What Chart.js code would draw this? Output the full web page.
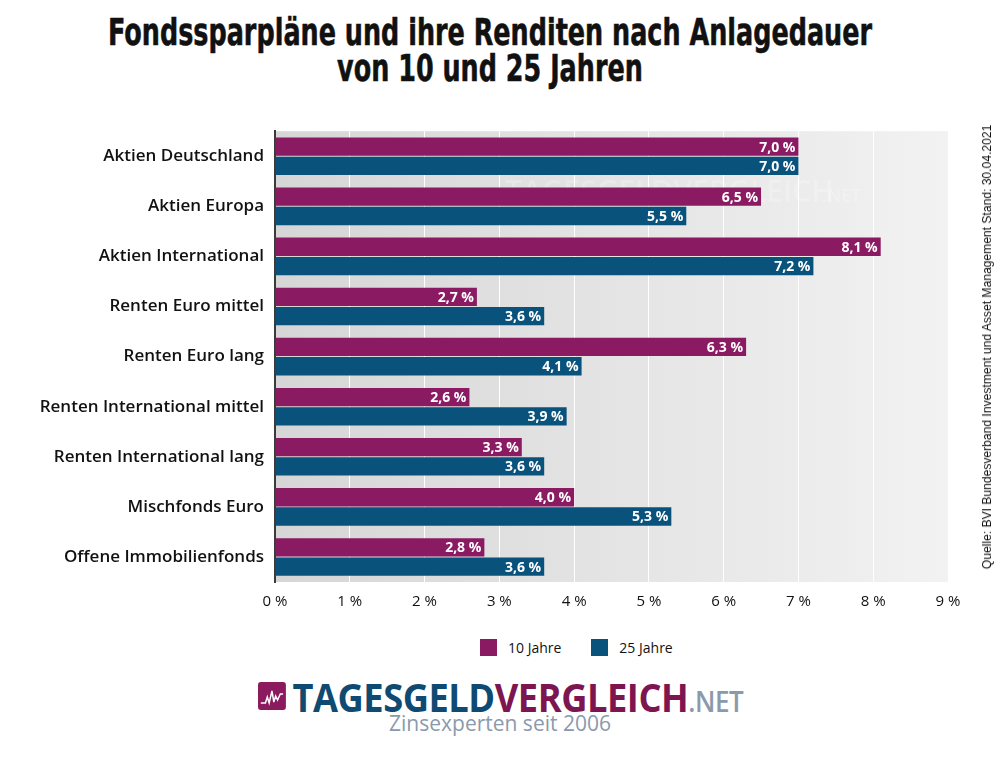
<!DOCTYPE html>
<html>
<head>
<meta charset="utf-8">
<script src="https://cdn.jsdelivr.net/npm/chart.js@4/dist/chart.umd.min.js"></script>
<style>
  body { margin: 0; width: 1000px; height: 764px; background: #fff; position: relative; overflow: hidden; font-family: "Open Sans", sans-serif; }
  #title { position: absolute; top: 14px; left: -300px; width: 1580px; white-space: nowrap; text-align: center; font-family: "DejaVu Sans", sans-serif; font-weight: bold; font-size: 38px; line-height: 36px; color: #111; transform: scaleX(0.67); transform-origin: 790px 0; -webkit-text-stroke: 0.6px #111; }
  #wrap { position: absolute; left: 0; top: 110px; width: 1000px; height: 520px; }
  #source { position: absolute; left: 987px; top: 347px; transform: translate(-50%, -50%) rotate(-90deg); white-space: nowrap; font-family: "Liberation Sans", Arial, sans-serif; font-size: 12.1px; color: #111; }
  #legend { position: absolute; top: 638px; left: 480px; white-space: nowrap; font-family: "Open Sans", sans-serif; font-size: 14px; color: #111; }
  #legend span.box { display: inline-block; width: 17px; height: 17px; vertical-align: -3px; margin-right: 11px; }
  #legend span.item { margin-right: 30px; }
  #logo { position: absolute; top: 677px; left: 258px; white-space: nowrap; font-family: "Open Sans", sans-serif; font-weight: 700; font-size: 39px; line-height: 40px; letter-spacing: -0.5px; transform: scaleX(0.93); transform-origin: 0 0; }
  #logo svg { vertical-align: 2px; margin-right: 7px; }
  #logo .a { color: #0f4a72; }
  #logo .b { color: #7d1551; }
  #logo .c { color: #8a9aab; font-weight: 600; font-size: 28px; }
  #slogan { position: absolute; top: 709px; left: 0; width: 1000px; text-align: center; font-family: "Open Sans", sans-serif; font-size: 21px; color: #8a9aab; }
</style>
</head>
<body>
<div id="title">Fondssparpläne und ihre Renditen nach Anlagedauer<br>von 10 und 25 Jahren</div>
<div id="wrap"><canvas id="chart" width="1000" height="520"></canvas></div>
<div id="source">Quelle: BVI Bundesverband Investment und Asset Management Stand: 30.04.2021</div>
<div id="legend"></div>
<div id="logo"><svg width="30" height="28" viewBox="0 0 30 28"><rect width="30" height="28" rx="3" fill="#8b1a5e"/><polyline points="3,21 8,21 10,15 12,21 15,9 17,20 19,14 21,18 24,12 27,12" fill="none" stroke="#fff" stroke-width="1.6"/></svg><span class="a">TAGESGELD</span><span class="b">VERGLEICH</span><span class="c">.NET</span></div>
<div id="slogan">Zinsexperten seit 2006</div>
<script>
const categories = [
  'Aktien Deutschland',
  'Aktien Europa',
  'Aktien International',
  'Renten Euro mittel',
  'Renten Euro lang',
  'Renten International mittel',
  'Renten International lang',
  'Mischfonds Euro',
  'Offene Immobilienfonds',
];
const tenYears = [7.0, 6.5, 8.1, 2.7, 6.3, 2.6, 3.3, 4.0, 2.8];
const twentyFiveYears = [7.0, 5.5, 7.2, 3.6, 4.1, 3.9, 3.6, 5.3, 3.6];
const seriesNames = ['10 Jahre', '25 Jahre'];
const xTicks = [0, 1, 2, 3, 4, 5, 6, 7, 8, 9];

const purple = '#8a1a62';
const blue = '#09527c';

const fmt = (v) => v.toFixed(1).replace('.', ',') + ' %';

// grey gradient behind the bars plus faint watermark
const backdrop = {
  id: 'backdrop',
  beforeDraw(chart) {
    const { ctx, chartArea: a } = chart;
    const g = ctx.createLinearGradient(a.left, 0, a.right, 0);
    g.addColorStop(0, '#d6d6d6');
    g.addColorStop(1, '#f2f2f2');
    ctx.save();
    ctx.fillStyle = g;
    ctx.fillRect(a.left, a.top, a.right - a.left, a.bottom - a.top);
    ctx.font = '600 30px "Open Sans"';
    ctx.fillStyle = 'rgba(255,255,255,0.22)';
    ctx.textBaseline = 'middle';
    ctx.fillText('TAGESGELDVERGLEICH', 505, a.top + 62);
    ctx.font = '600 18px "Open Sans"';
    ctx.fillText('.NET', 822, a.top + 66);
    ctx.restore();
  },
};

const valueLabels = {
  id: 'valueLabels',
  afterDatasetsDraw(chart) {
    const { ctx } = chart;
    ctx.save();
    ctx.font = 'bold 14px "Open Sans"';
    ctx.fillStyle = '#fff';
    ctx.textAlign = 'right';
    ctx.textBaseline = 'middle';
    chart.data.datasets.forEach((ds, i) => {
      chart.getDatasetMeta(i).data.forEach((bar, j) => {
        ctx.fillText(fmt(ds.data[j]), bar.x - 3, bar.y + 1);
      });
    });
    ctx.restore();
  },
};

const chart = new Chart(document.getElementById('chart'), {
  type: 'bar',
  data: {
    labels: categories,
    datasets: [
      { label: seriesNames[0], data: tenYears, backgroundColor: purple },
      { label: seriesNames[1], data: twentyFiveYears, backgroundColor: blue },
    ],
  },
  options: {
    indexAxis: 'y',
    responsive: false,
    animation: false,
    datasets: { bar: { categoryPercentage: 0.77, barPercentage: 0.95 } },
    layout: { padding: { top: 20, left: 10, right: 52, bottom: 0 } },
    scales: {
      x: {
        min: 0,
        max: 9,
        afterBuildTicks(scale) { scale.ticks = xTicks.map((v) => ({ value: v })); },
        afterFit(scale) { scale.height = 48; },
        grid: { color: '#ffffff', lineWidth: 1, drawTicks: false },
        border: { display: false },
        ticks: {
          padding: 11,
          color: '#111',
          font: { family: 'Open Sans', size: 15 },
          callback: (v) => v + ' %',
        },
      },
      y: {
        afterFit(scale) { scale.width = 265; },
        grid: { display: false, drawTicks: false },
        border: { display: true, color: '#3a3a3a', width: 2 },
        ticks: {
          padding: 11,
          color: '#111',
          font: { family: 'Open Sans', size: 17, weight: '600' },
        },
      },
    },
    plugins: {
      tooltip: { enabled: false },
      legend: { display: false },
    },
  },
  plugins: [backdrop, valueLabels],
});

// legend built from the chart's datasets
document.getElementById('legend').innerHTML = chart.data.datasets
  .map((ds) => `<span class="item"><span class="box" style="background:${ds.backgroundColor}"></span>${ds.label}</span>`)
  .join('');
</script>
</body>
</html>
